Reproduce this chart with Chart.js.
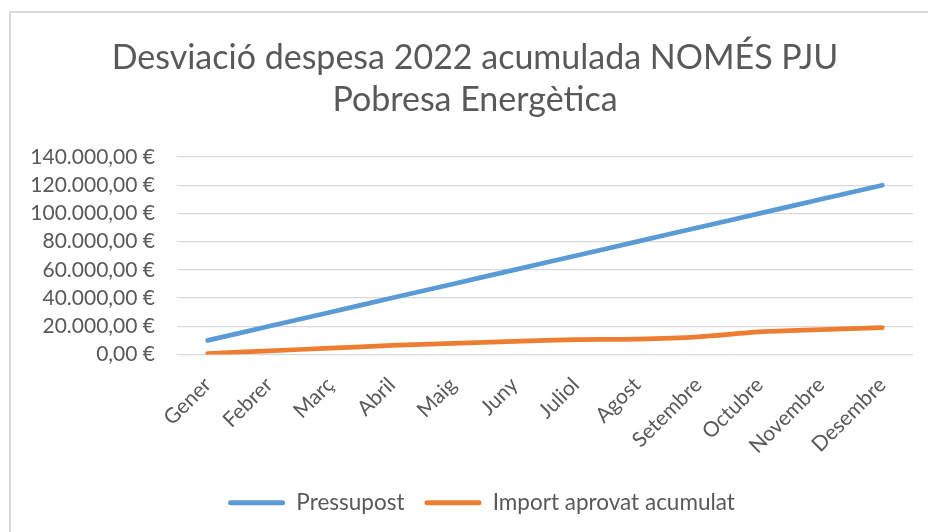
<!DOCTYPE html>
<html>
<head>
<meta charset="utf-8">
<script src="https://cdn.jsdelivr.net/npm/chart.js@4"></script>
<style>
    html, body { margin: 0; padding: 0; background: #fff; overflow: hidden; }
    #marc { position: absolute; left: 9px; top: 11px; width: 1000px; height: 1000px; border: 2px solid #d9d9d9; }
    #wrap { position: absolute; left: 0; top: 0; width: 928px; height: 532px; }
</style>
</head>
<body>
<div id="marc"></div>
<div id="wrap"><canvas id="grafic"></canvas></div>
<script>
// dades del gràfic
const mesos = ["Gener", "Febrer", "Març", "Abril", "Maig", "Juny", "Juliol", "Agost", "Setembre", "Octubre", "Novembre", "Desembre"];
const pressupost = [10000, 20000, 30000, 40000, 50000, 60000, 70000, 80000, 90000, 100000, 110000, 120000];
const importAprovat = [700, 2600, 4500, 6400, 7900, 9300, 10500, 10900, 12500, 16000, 17600, 19000];
const titol = ["Desviació despesa 2022 acumulada NOMÉS PJU", "Pobresa Energètica"];

const grisText = "#595959";
const fontBase = "Lato, 'Open Sans', sans-serif";

function formatEuro(v) {
    let s = Math.round(v).toString().replace(/\B(?=(\d{3})+(?!\d))/g, ".");
    return s + ",00 €";
}

// centra el títol i la llegenda com a l'original
const ajustaCaixes = {
    id: "ajustaCaixes",
    afterLayout: function (chart) {
        chart.titleBlock.left += 27;
        chart.legend.left += 40;
    }
};

let ctx = document.getElementById("grafic").getContext("2d");

let grafic = new Chart(ctx, {
    type: "line",
    data: {
        labels: mesos,
        datasets: [{
            label: "Pressupost",
            data: pressupost,
            borderColor: "#5B9BD5",
            backgroundColor: "#5B9BD5",
            borderWidth: 4.7,
            borderCapStyle: "round",
            pointRadius: 0,
            tension: 0.3
        }, {
            label: "Import aprovat acumulat",
            data: importAprovat,
            borderColor: "#ED7D31",
            backgroundColor: "#ED7D31",
            borderWidth: 4.7,
            borderCapStyle: "round",
            pointRadius: 0,
            tension: 0.3
        }]
    },
    plugins: [ajustaCaixes],
    options: {
        responsive: true,
        maintainAspectRatio: false,
        animation: false,
        layout: { padding: { left: 10, right: 15, top: 14, bottom: 8 } },
        plugins: {
            title: {
                display: true,
                text: titol,
                color: grisText,
                font: { family: fontBase, size: 34, weight: "normal", lineHeight: 1.235 },
                padding: { top: 23, bottom: 36 }
            },
            legend: {
                position: "bottom",
                labels: {
                    color: grisText,
                    font: { family: fontBase, size: 22.5 },
                    boxWidth: 57,
                    boxHeight: 5,
                    padding: 20,
                    useBorderRadius: true,
                    borderRadius: 2.5,
                    generateLabels: function (chart) {
                        return chart.data.datasets.map(function (ds, i) {
                            return {
                                text: ds.label,
                                fillStyle: ds.borderColor,
                                strokeStyle: ds.borderColor,
                                lineWidth: 0,
                                fontColor: grisText,
                                datasetIndex: i,
                                borderRadius: 2.5
                            };
                        });
                    }
                }
            },
            tooltip: { enabled: false }
        },
        scales: {
            x: {
                offset: true,
                grid: { display: false },
                border: { display: false },
                ticks: {
                    color: grisText,
                    font: { family: fontBase, size: 21 },
                    minRotation: 45,
                    maxRotation: 45,
                    padding: 10,
                    autoSkip: false
                },
                afterFit: function (axis) { axis.height = 117; }
            },
            y: {
                min: 0,
                max: 140000,
                grid: { color: "#d9d9d9", lineWidth: 1.3, drawTicks: false },
                border: { display: false },
                ticks: {
                    stepSize: 20000,
                    autoSkip: false,
                    color: grisText,
                    font: { family: fontBase, size: 21 },
                    padding: 22,
                    callback: function (v) { return formatEuro(v); }
                },
                afterFit: function (axis) { axis.width = 167; }
            }
        }
    }
});
</script>
</body>
</html>
